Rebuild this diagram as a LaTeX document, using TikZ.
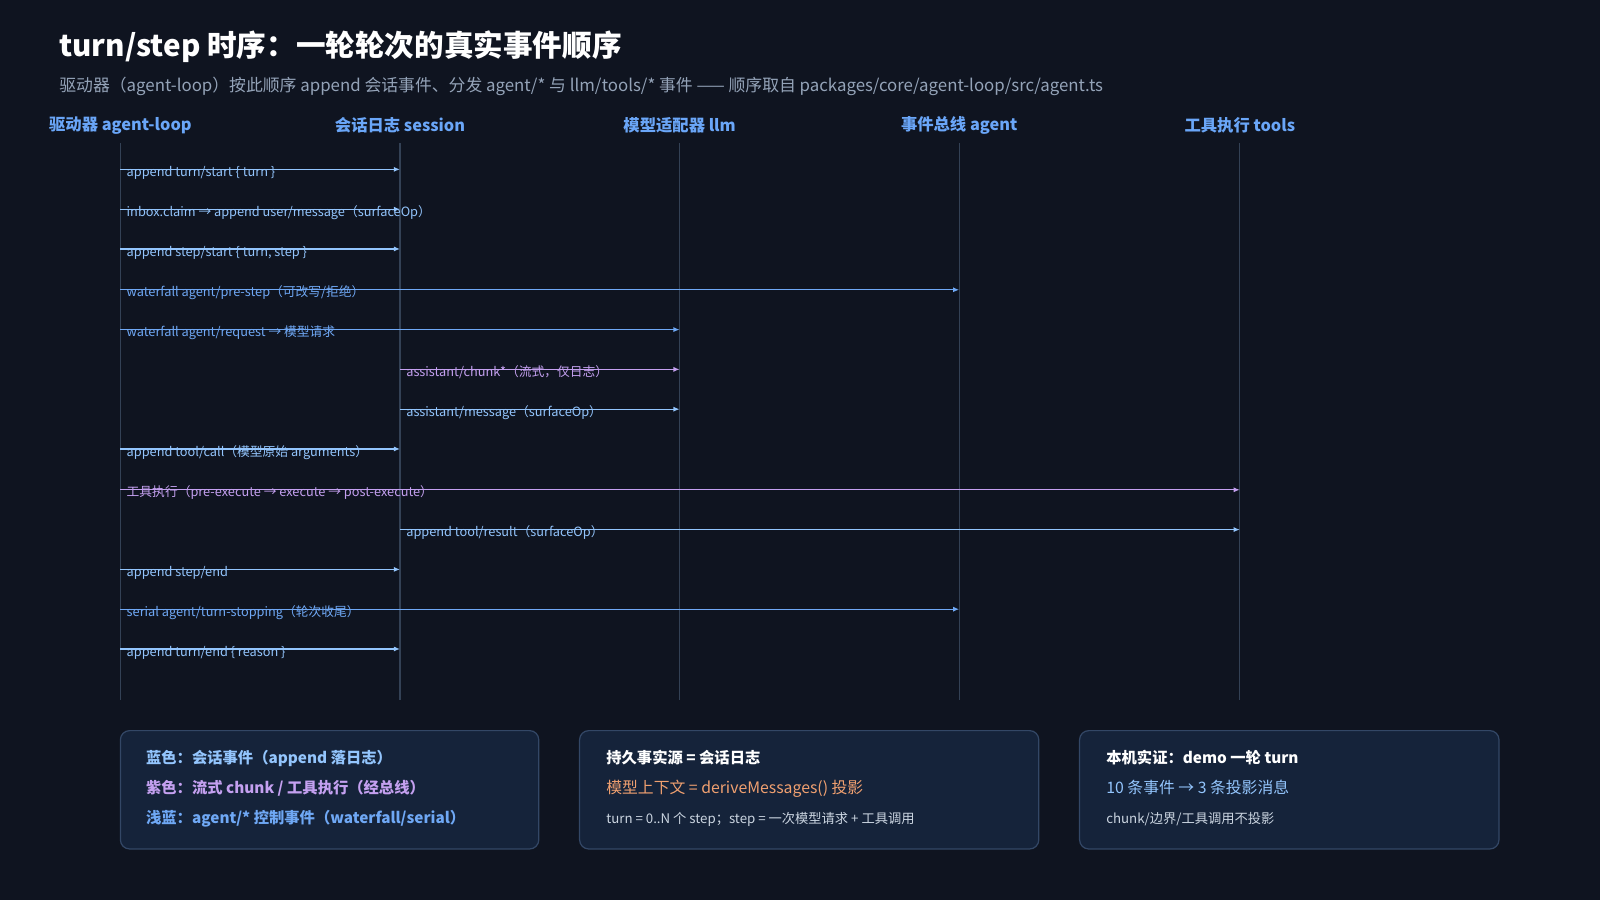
\documentclass[tikz,border=0pt]{standalone}
\usepackage{fontspec}
\setmainfont{Noto Sans CJK SC}
\newfontfamily\cjkb{Noto Sans CJK SC}[FakeBold=0]
\usetikzlibrary{arrows.meta}
\definecolor{bg}{HTML}{0F1420}
\definecolor{life}{HTML}{334155}
\definecolor{hdr}{HTML}{6AA6F8}
\definecolor{lblue}{HTML}{93C5FD}
\definecolor{ablue}{HTML}{6FA8F5}
\definecolor{purp}{HTML}{C4A0F0}
\definecolor{sub}{HTML}{94A3B8}
\definecolor{boxf}{HTML}{15233A}
\definecolor{boxd}{HTML}{334766}
\definecolor{orng}{HTML}{F0A070}
\definecolor{ltxt}{HTML}{CBD5E1}
\begin{document}
\begin{tikzpicture}[x=1pt,y=-1pt,
  hdrs/.style={text=hdr,font=\fontsize{16}{18}\selectfont\bfseries,anchor=center},
  lifel/.style={draw=life,line width=1pt},
  msg/.style={-{Latex[length=6pt,width=5pt]},line width=1.3pt},
  lab/.style={font=\fontsize{12.5}{14}\selectfont,anchor=base west,inner sep=0pt},
  box/.style={draw=boxd,fill=boxf,rounded corners=9pt,line width=1.2pt},
  bt/.style={anchor=base west,inner sep=0pt}]
\fill[bg] (0,0) rectangle (1568,882);
\useasboundingbox (0,0) rectangle (1568,882);
\node[anchor=base west,inner sep=0pt,text=white,font=\fontsize{29}{32}\selectfont\bfseries] (title) at (58,55) {turn/step 时序：一轮轮次的真实事件顺序};
\node[anchor=base west,inner sep=0pt,text=sub,font=\fontsize{16.5}{18}\selectfont] (subt) at (58,90) {驱动器（agent-loop）按此顺序 append 会话事件、分发 agent/* 与 llm/tools/* 事件 —— 顺序取自 packages/core/agent-loop/src/agent.ts};
\foreach \n/\x/\t in {A/118/驱动器 agent-loop,S/392/会话日志 session,L/666/模型适配器 llm,E/940/事件总线 agent/*,T/1215/工具执行 tools}{
  \node[hdrs] (h\n) at (\x,123) {\t};
  \coordinate (t\n) at (\x,140);
  \coordinate (b\n) at (\x,686);
  \draw[lifel] (t\n) -- (b\n);
}
\foreach \i/\f/\tt/\y/\c/\t in {
 1/A/S/166/lblue/{append turn/start \{ turn \}},
 2/A/S/205/lblue/{inbox.claim → append user/message（surfaceOp）},
 3/A/S/244/lblue/{append step/start \{ turn, step \}},
 4/A/E/284/ablue/{waterfall agent/pre-step（可改写/拒绝）},
 5/A/L/323/ablue/{waterfall agent/request → 模型请求},
 6/S/L/362/purp/{assistant/chunk*（流式，仅日志）},
 7/S/L/401/lblue/{assistant/message（surfaceOp）},
 8/A/S/440/lblue/{append tool/call（模型原始 arguments）},
 9/A/T/480/purp/{工具执行（pre-execute → execute → post-execute）},
 10/S/T/519/lblue/{append tool/result（surfaceOp）},
 11/A/S/558/lblue/{append step/end},
 12/A/E/597/ablue/{serial agent/turn-stopping（轮次收尾）},
 13/A/S/636/lblue/{append turn/end \{ reason \}}}{
  \path (t\f |- 0,\y) coordinate (s\i);
  \path (t\tt |- 0,\y) coordinate (e\i);
  \draw[msg,draw=\c] (s\i) -- (e\i);
  \node[lab,text=\c] (l\i) at ([xshift=6pt,yshift=-7pt]s\i) {\t};
}
\draw[box] (118,716) rectangle (528,832);
\draw[box] (568,716) rectangle (1018,832);
\draw[box] (1058,716) rectangle (1469,832);
\node[bt,text=lblue,font=\fontsize{15}{17}\selectfont\bfseries] (k1) at (143,748) {蓝色：会话事件（append 落日志）};
\node[bt,text=purp,font=\fontsize{15}{17}\selectfont\bfseries] (k2) at (143,778) {紫色：流式 chunk / 工具执行（经总线）};
\node[bt,text=ablue,font=\fontsize{15}{17}\selectfont\bfseries] (k3) at (143,807) {浅蓝：agent/* 控制事件（waterfall/serial）};
\node[bt,text=white,font=\fontsize{15}{17}\selectfont\bfseries] (m1) at (594,748) {持久事实源 = 会话日志};
\node[bt,text=orng,font=\fontsize{15.5}{17}\selectfont] (m2) at (594,778) {模型上下文 = deriveMessages() 投影};
\node[bt,text=ltxt,font=\fontsize{13}{15}\selectfont] (m3) at (594,807) {turn = 0..N 个 step；step = 一次模型请求 + 工具调用};
\node[bt,text=white,font=\fontsize{15}{17}\selectfont\bfseries] (r1) at (1084,748) {本机实证：demo 一轮 turn};
\node[bt,text=lblue,font=\fontsize{15.5}{17}\selectfont] (r2) at (1084,778) {10 条事件 → 3 条投影消息};
\node[bt,text=ltxt,font=\fontsize{13}{15}\selectfont] (r3) at (1084,807) {chunk/边界/工具调用不投影};
\end{tikzpicture}
\end{document}
